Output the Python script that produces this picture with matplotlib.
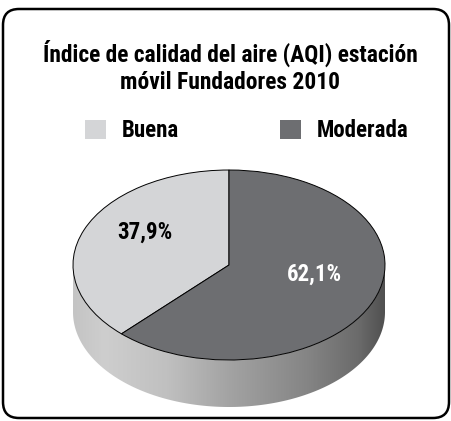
import numpy as np
import matplotlib
matplotlib.use("Agg")
import matplotlib.pyplot as plt
from matplotlib.patches import FancyBboxPatch, Polygon, Patch
from matplotlib.colors import LinearSegmentedColormap

plt.rcParams["font.family"] = ["Roboto Condensed", "Roboto", "DejaVu Sans"]
plt.rcParams["font.weight"] = "bold"

title_lines = ["Índice de calidad del aire (AQI) estación", "móvil Fundadores 2010"]
categories = ["Buena", "Moderada"]
values = [37.9, 62.1]
labels = ["37,9%", "62,1%"]
colors = ["#d4d5d7", "#6d6e71"]
label_colors = ["black", "white"]

W, H = 452, 421
fig = plt.figure(figsize=(W / 100, H / 100), dpi=100)

# rounded frame
bg = fig.add_axes([0, 0, 1, 1])
bg.set_xlim(0, W)
bg.set_ylim(H, 0)
bg.axis("off")
bg.add_patch(FancyBboxPatch((3, 9), 446, 409, boxstyle="round,pad=0,rounding_size=16",
                            facecolor="white", edgecolor="black", linewidth=1.8))

# pie axes: top ellipse + side depth
cx, cy, a, b, depth = 229, 265, 156, 95, 47
d = depth / b
ax = fig.add_axes([(cx - a) / W, (H - (cy + b + depth)) / H, 2 * a / W, (2 * b + depth) / H])
ax.axis("off")

# side of the cylinder with horizontal gradient
t = np.linspace(np.pi, 2 * np.pi, 200)
upper = np.column_stack([np.cos(t), np.sin(t)])
lower = np.column_stack([np.cos(t[::-1]), np.sin(t[::-1]) - d])
side = Polygon(np.vstack([upper, lower]), closed=True, facecolor="none", edgecolor="none")
ax.add_patch(side)
cmap = LinearSegmentedColormap.from_list("side", [
    (0.0, "#c4c4c4"), (0.1, "#cecece"), (0.3, "#c0c0c0"), (0.5, "#a3a3a3"),
    (0.75, "#858585"), (0.92, "#6a6a6a"), (1.0, "#505050")])
grad = np.linspace(0, 1, 256).reshape(1, -1)
img = ax.imshow(grad, cmap=cmap, extent=(-1, 1, -1 - d, 0), aspect="auto", zorder=1)
img.set_clip_path(side)

wedges, _ = ax.pie(values, colors=colors, startangle=90, counterclock=True,
                   wedgeprops=dict(edgecolor="black", linewidth=0.7))
for w in wedges:
    w.set_zorder(2)
ax.set_aspect("auto")
ax.set_xlim(-1, 1)
ax.set_ylim(-1 - d, 1)

# percentage labels (positions in pie data units)
label_pos = [(-0.54, 0.34), (0.545, -0.095)]
for (lx, ly), lab, lc in zip(label_pos, labels, label_colors):
    ax.text(lx, ly, lab, ha="center", va="center", fontsize=16.5, color=lc,
            fontweight="bold", zorder=5)

for line, base in zip(title_lines, [62, 89]):
    fig.text(230 / W, 1 - base / H, line, ha="center", va="baseline", fontsize=16.9,
             fontweight="bold")

handles = [Patch(facecolor=c, edgecolor="none") for c in colors]
fig.legend(handles, categories, ncol=2, loc="center", bbox_to_anchor=(247 / W, 1 - 131 / H),
           frameon=False, fontsize=16.5, handlelength=0.9, handleheight=0.85,
           handletextpad=0.7, columnspacing=4.4, borderpad=0)

fig.savefig("out.png", dpi=100)
